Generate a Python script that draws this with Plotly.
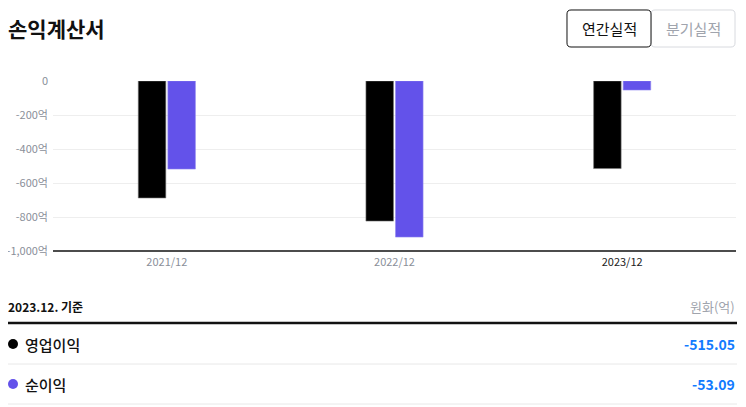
import plotly.graph_objects as go

categories = ["2021/12", "2022/12", "2023/12"]
operating_profit = [-688, -824, -515.05]
net_profit = [-518, -918, -53.09]
y_tick_vals = [0, -200, -400, -600, -800, -1000]
y_tick_text = ["0", "-200억", "-400억", "-600억", "-800억", "-1,000억"]
x_tick_text = ["2021/12", "2022/12", "<span style='color:#222222'>2023/12</span>"]
series_names = ["영업이익", "순이익"]
latest_values = ["-515.05", "-53.09"]

OFF = 8  # page body margin
W, H = 746 - OFF, 407 - OFF
L, R, T, B = 53 - OFF, 10, 81 - OFF, 156
PW, PH = W - L - R, H - T - B
FONT = "Noto Sans CJK KR"
BLACK = "#000000"
PURPLE = "#6352EA"
BLUE = "#127BFF"


def px(x):
    return (x - OFF - L) / PW


def py(y):
    return (H - B - (y - OFF)) / PH


def rounded_rect(x0, y0, x1, y1, r):
    # page-pixel coordinates -> paper path
    pts = []
    def P(x, y):
        return f"{px(x):.5f},{py(y):.5f}"
    return (f"M {P(x0 + r, y0)} L {P(x1 - r, y0)} Q {P(x1, y0)} {P(x1, y0 + r)} "
            f"L {P(x1, y1 - r)} Q {P(x1, y1)} {P(x1 - r, y1)} "
            f"L {P(x0 + r, y1)} Q {P(x0, y1)} {P(x0, y1 - r)} "
            f"L {P(x0, y0 + r)} Q {P(x0, y0)} {P(x0 + r, y0)} Z")


fig = go.Figure()
fig.add_trace(go.Bar(x=categories, y=operating_profit, name=series_names[0],
                     marker=dict(color=BLACK, line=dict(color="#777777", width=0.6))))
fig.add_trace(go.Bar(x=categories, y=net_profit, name=series_names[1],
                     marker=dict(color=PURPLE, line=dict(color="#8f85f0", width=0.6))))

fig.update_layout(
    width=W, height=H,
    margin=dict(l=L, r=R, t=T, b=B, pad=0, autoexpand=False),
    paper_bgcolor="white", plot_bgcolor="white",
    barmode="group", bargap=0.74, bargroupgap=0.07,
    showlegend=False,
    font=dict(family=FONT, color="#8a8f99", size=11),
    xaxis=dict(tickmode="array", tickvals=categories, ticktext=x_tick_text,
               showgrid=False, showline=False, zeroline=False, ticks="", automargin=False,
               tickfont=dict(size=11, color="#8a8f99"), range=[-0.5, 2.5],
               ticklabelstandoff=3),
    yaxis=dict(range=[-1000, 0], tickmode="array", tickvals=y_tick_vals, ticktext=y_tick_text,
               showgrid=True, gridcolor="#eeeeee", gridwidth=1, zeroline=False, automargin=False,
               showline=False, ticks="", tickfont=dict(size=11, color="#8a8f99"),
               ticklabelstandoff=4),
)

shapes = []
annotations = []

# bottom axis line
shapes.append(dict(type="line", xref="paper", yref="paper", x0=0, x1=1, y0=py(251), y1=py(251),
                   line=dict(color="#111111", width=1.5)))

# title
annotations.append(dict(text="<b>손익계산서</b>", xref="paper", yref="paper", x=px(6), y=py(28),
                        xanchor="left", yanchor="middle", showarrow=False,
                        font=dict(family=FONT, size=21, color="#111111")))

# toggle buttons
shapes.append(dict(type="path", xref="paper", yref="paper", path=rounded_rect(651, 10, 735, 47, 4),
                   line=dict(color="#d8dadf", width=1), fillcolor="white"))
shapes.append(dict(type="path", xref="paper", yref="paper", path=rounded_rect(567, 10, 651, 47, 4),
                   line=dict(color="#111111", width=1), fillcolor="white"))
annotations.append(dict(text="연간실적", xref="paper", yref="paper", x=px(609), y=py(29),
                        xanchor="center", yanchor="middle", showarrow=False,
                        font=dict(family=FONT, size=15, color="#111111")))
annotations.append(dict(text="분기실적", xref="paper", yref="paper", x=px(693), y=py(29),
                        xanchor="center", yanchor="middle", showarrow=False,
                        font=dict(family=FONT, size=15, color="#a0a4ad")))

# table header
annotations.append(dict(text="<b>2023.12. 기준</b>", xref="paper", yref="paper", x=px(6), y=py(306),
                        xanchor="left", yanchor="middle", showarrow=False,
                        font=dict(family=FONT, size=12, color="#111111")))
annotations.append(dict(text="원화(억)", xref="paper", yref="paper", x=px(737), y=py(306),
                        xanchor="right", yanchor="middle", showarrow=False,
                        font=dict(family=FONT, size=13, color="#a0a4ad")))
shapes.append(dict(type="line", xref="paper", yref="paper", x0=px(7), x1=px(737), y0=py(323), y1=py(323),
                   line=dict(color="#111111", width=2.5)))

row_y = [344, 384]
line_y = [364, 404]
colors = [BLACK, PURPLE]
for i in range(2):
    shapes.append(dict(type="circle", xref="paper", yref="paper", xsizemode="pixel", ysizemode="pixel",
                       xanchor=px(13), yanchor=py(row_y[i]), x0=-5, x1=5, y0=-5, y1=5,
                       fillcolor=colors[i], line=dict(width=0)))
    annotations.append(dict(text=series_names[i], xref="paper", yref="paper", x=px(23), y=py(row_y[i]),
                            xanchor="left", yanchor="middle", showarrow=False,
                            font=dict(family=FONT, size=15, color="#111111", weight=500)))
    annotations.append(dict(text="<b>" + latest_values[i] + "</b>", xref="paper", yref="paper",
                            x=px(737), y=py(row_y[i]), xanchor="right", yanchor="middle", showarrow=False,
                            font=dict(family=FONT, size=14, color=BLUE)))
    shapes.append(dict(type="line", xref="paper", yref="paper", x0=px(7), x1=px(737),
                       y0=py(line_y[i]), y1=py(line_y[i]), line=dict(color="#e8e8e8", width=1)))

fig.update_layout(shapes=shapes, annotations=annotations)
fig.write_html("out.html")
